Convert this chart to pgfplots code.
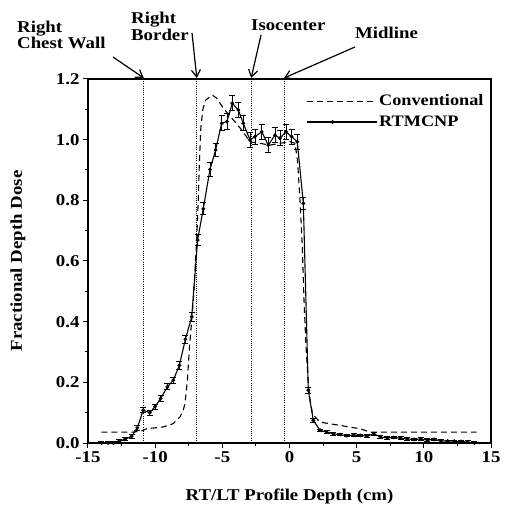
\documentclass[border=0pt]{standalone}
\usepackage{pgfplots}
\pgfplotsset{compat=1.18}
\usepackage{pgfplotstable}
\usetikzlibrary{arrows.meta}
\usepackage{fontspec}
\setmainfont{Liberation Serif}[FakeStretch=1.14]

\pgfplotstableread{
x y e
-14.0 0.000 0.004
-13.5 0.000 0.004
-13.1 0.000 0.004
-12.67 0.007 0.005
-12.25 0.012 0.005
-11.75 0.022 0.006
-11.33 0.050 0.007
-10.89 0.108 0.008
-10.40 0.100 0.008
-10.01 0.120 0.008
-9.59 0.147 0.009
-9.09 0.185 0.010
-8.65 0.207 0.010
-8.20 0.256 0.012
-7.75 0.342 0.014
-7.28 0.416 0.015
-6.84 0.669 0.018
-6.42 0.772 0.020
-5.92 0.902 0.022
-5.50 0.966 0.022
-5.05 1.054 0.025
-4.65 1.060 0.025
-4.26 1.120 0.025
-3.81 1.098 0.025
-3.44 1.054 0.025
-2.94 0.999 0.025
-2.57 1.010 0.025
-2.07 1.026 0.025
-1.58 0.982 0.025
-1.08 1.015 0.025
-0.71 1.005 0.025
-0.26 1.026 0.025
0.16 1.010 0.025
0.58 0.993 0.025
1.03 0.790 0.020
1.40 0.174 0.010
1.77 0.075 0.006
2.27 0.042 0.004
2.77 0.036 0.004
3.27 0.030 0.004
3.77 0.028 0.004
4.27 0.024 0.004
4.77 0.026 0.004
5.27 0.025 0.004
5.77 0.023 0.004
6.27 0.030 0.004
6.77 0.020 0.004
7.27 0.017 0.004
7.77 0.018 0.004
8.27 0.016 0.004
8.77 0.013 0.004
9.27 0.012 0.004
9.77 0.013 0.004
10.27 0.010 0.004
10.77 0.012 0.004
11.27 0.007 0.004
11.77 0.006 0.004
12.27 0.006 0.004
12.77 0.005 0.004
13.27 0.003 0.004
13.77 0.000 0.004
}\rtmcnp

\pgfplotstableread{
x y
-14.0 0.036
-11.6 0.036
-11.0 0.040
-10.63 0.047
-9.39 0.053
-8.65 0.064
-8.15 0.086
-7.9 0.110
-7.78 0.130
-7.6 0.207
-7.46 0.306
-7.16 0.470
-6.91 0.669
-6.79 0.800
-6.72 0.910
-6.60 1.040
-6.45 1.100
-6.25 1.130
-5.75 1.147
-5.43 1.137
-4.93 1.104
-4.18 1.065
-3.56 1.032
-2.94 0.993
-2.20 0.988
-1.45 0.982
-0.71 0.988
0.04 0.993
0.41 0.988
0.60 0.930
0.78 0.800
0.95 0.650
1.08 0.470
1.23 0.317
1.40 0.196
1.53 0.141
1.70 0.100
1.90 0.086
2.27 0.069
3.76 0.058
5.25 0.047
6.00 0.036
13.93 0.036
}\conv

\begin{document}
\begin{tikzpicture}[font=\fontsize{16.5}{18}\selectfont\bfseries]
\begin{axis}[
  scale only axis, width=403pt, height=364pt,
  xmin=-15, xmax=15, ymin=0, ymax=1.2,
  xtick={-15,-10,-5,0,5,10,15},
  xticklabels={-15,-10,-5,0,5,10,15},
  minor xtick={-12.5,-7.5,-2.5,2.5,7.5,12.5},
  ytick={0,0.2,0.4,0.6,0.8,1.0,1.2},
  yticklabels={0.0,0.2,0.4,0.6,0.8,1.0,1.2},
  minor ytick={0.1,0.3,0.5,0.7,0.9,1.1},
  tick pos=left, tick align=outside,
  major tick length=5pt, minor tick length=3pt,
  every tick/.style={black, line width=1pt},
  axis line style={line width=1.3pt},
  ticklabel style={font=\fontsize{16.5}{18}\selectfont\bfseries},
  xlabel={RT/LT Profile Depth (cm)},
  ylabel={Fractional Depth Dose},
  xlabel style={at={(axis description cs:0.5,-0.148)}, anchor=center, font=\fontsize{16.5}{18}\selectfont\bfseries},
  ylabel style={at={(axis description cs:-0.174,0.5)}, anchor=center, rotate=0, font=\fontsize{16.5}{18}\selectfont\bfseries},
  legend style={draw=none, fill=none, at={(axis description cs:0.533,0.968)}, anchor=north west,
    font=\fontsize{16}{18}\selectfont\bfseries, row sep=4.5pt},
  legend cell align=left,
]
% vertical reference lines
\addplot[forget plot, black, line width=0.8pt, dash pattern=on 1pt off 1.2pt] coordinates {(-10.85,0) (-10.85,1.2)};
\addplot[forget plot, black, line width=0.8pt, dash pattern=on 1pt off 1.2pt] coordinates {(-6.9,0) (-6.9,1.2)};
\addplot[forget plot, black, line width=0.8pt, dash pattern=on 1pt off 1.2pt] coordinates {(-2.85,0) (-2.85,1.2)};
\addplot[forget plot, black, line width=0.8pt, dash pattern=on 1pt off 1.2pt] coordinates {(-0.4,0) (-0.4,1.2)};

\addplot[black, line width=1.1pt, dash pattern=on 6pt off 4pt,
  legend image code/.code={\draw[black, line width=1.1pt, dash pattern=on 6pt off 4pt] (0pt,0pt) -- (52pt,0pt); \path (0pt,0pt) -- (70pt,0pt);}]
  table[x=x,y=y]{\conv};
\addlegendentry{Conventional}

\addplot[black, line width=1.1pt, mark=*, mark size=1.3pt,
  legend image code/.code={\draw[black, line width=1.1pt] (0pt,0pt) -- (52pt,0pt); \fill[black] (26pt,0pt) circle (1.3pt); \path (0pt,0pt) -- (70pt,0pt);},
  error bars/.cd, y dir=both, y explicit,
  error bar style={line width=0.9pt, black},
  error mark options={rotate=90, mark size=3pt, line width=0.9pt, black}]
  table[x=x,y=y,y error=e]{\rtmcnp};
\addlegendentry{RTMCNP}
\end{axis}

% annotations
\node[anchor=base west, inner sep=0pt] at (-71pt,410.7pt) {Right};
\node[anchor=base west, inner sep=0pt] at (-71pt,394pt) {Chest Wall};
\node[anchor=base west, inner sep=0pt] at (43pt,419pt) {Right};
\node[anchor=base west, inner sep=0pt] at (43pt,402.3pt) {Border};
\node[anchor=base west, inner sep=0pt] at (163pt,412pt) {Isocenter};
\node[anchor=base west, inner sep=0pt] at (267pt,404.3pt) {Midline};
\draw[line width=1.2pt, -{Straight Barb[length=7pt,width=9pt,line width=1.2pt]}] (25pt,386pt) -- (55.75pt,365pt);
\draw[line width=1.2pt, -{Straight Barb[length=7pt,width=9pt,line width=1.2pt]}] (104pt,410pt) -- (108.8pt,365pt);
\draw[line width=1.2pt, -{Straight Barb[length=7pt,width=9pt,line width=1.2pt]}] (173pt,408pt) -- (163.2pt,365pt);
\draw[line width=1.2pt, -{Straight Barb[length=7pt,width=9pt,line width=1.2pt]}] (267pt,396pt) -- (196.1pt,365pt);

\pgfresetboundingbox
\path[use as bounding box] (-88pt,-65pt) rectangle (417pt,443pt);
\end{tikzpicture}
\end{document}
